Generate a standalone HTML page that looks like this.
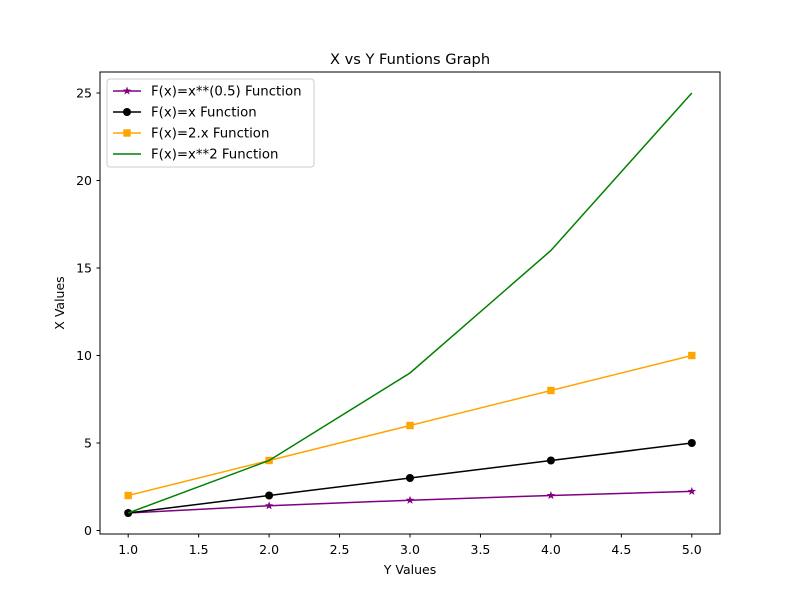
<!DOCTYPE html>
<html><head><meta charset="utf-8"><style>body{margin:0;background:#fff}svg text{font-family:"DejaVu Sans","Liberation Sans",sans-serif}</style></head>
<body>
<svg id="chart" width="800" height="600" xmlns="http://www.w3.org/2000/svg">
<rect width="800" height="600" fill="#fff"/>
<text x="410" y="64" text-anchor="middle" font-size="14.6">X vs Y Funtions Graph</text>
<g id="ticks"></g>
<g id="series"></g>
<rect x="100" y="72" width="620" height="462" fill="none" stroke="#000" stroke-width="1"/>
<text x="410" y="574" text-anchor="middle" font-size="12.5">Y Values</text>
<text transform="translate(64,303) rotate(-90)" text-anchor="middle" font-size="12.5">X Values</text>
<g id="legend"></g>
</svg>
<script>
const xs = [1, 2, 3, 4, 5];
const sqrtVals = [1, 1.414, 1.732, 2, 2.236];
const linVals = [1, 2, 3, 4, 5];
const dblVals = [2, 4, 6, 8, 10];
const sqVals = [1, 4, 9, 16, 25];
const xTicks = [1.0, 1.5, 2.0, 2.5, 3.0, 3.5, 4.0, 4.5, 5.0];
const yTicks = [0, 5, 10, 15, 20, 25];
const labels = ["F(x)=x**(0.5) Function", "F(x)=x Function", "F(x)=2.x Function", "F(x)=x**2 Function"];

const L=100,R=720,T=72,B=534,xmin=0.8,xmax=5.2,ymin=-0.2,ymax=26.2;
const sx=v=>L+(v-xmin)/(xmax-xmin)*(R-L);
const sy=v=>B-(v-ymin)/(ymax-ymin)*(B-T);
const NS="http://www.w3.org/2000/svg";
function mk(t,a,p){const e=document.createElementNS(NS,t);for(const k in a)e.setAttribute(k,a[k]);p.appendChild(e);return e;}
const tg=document.getElementById('ticks');
xTicks.forEach(v=>{const x=sx(v);
 const l=mk('line',{x1:x,x2:x,y1:B,y2:B+3.5,stroke:'#000'},tg);
 
 
 const t=mk('text',{x:x,y:B+20,'text-anchor':'middle','font-size':12.5},tg);t.textContent=v.toFixed(1);
 
 });
yTicks.forEach(v=>{const y=sy(v);
 const l=mk('line',{x1:L-3.5,x2:L,y1:y,y2:y,stroke:'#000'},tg);
 
 
 const t=mk('text',{x:L-8,y:y+4.5,'text-anchor':'end','font-size':12.5},tg);t.textContent=v;
 
 });
const sg=document.getElementById('series');
function star(g,x,y,r,c){let p=[];for(let i=0;i<10;i++){const a=-Math.PI/2+i*Math.PI/5,rr=i%2?r*0.4:r;p.push((x+rr*Math.cos(a))+','+(y+rr*Math.sin(a)));}return mk('polygon',{points:p.join(' '),fill:c},g);}
function marker(g,m,x,y,c){
 if(m==='*')return star(g,x,y,4.5,c);
 if(m==='o')return mk('circle',{cx:x,cy:y,r:4,fill:c},g);
 if(m==='s')return mk('rect',{x:x-3.7,y:y-3.7,width:7.4,height:7.4,fill:c},g);
}
const defs=[[sqrtVals,'purple','*','sqrt'],[linVals,'black','o','linear'],[dblVals,'orange','s','double'],[sqVals,'green',null,'square']];
defs.forEach(([vals,c,m,n])=>{
 const g=mk('g',{},sg);
 
 
 const pl=mk('polyline',{points:xs.map((x,i)=>sx(x)+','+sy(vals[i])).join(' '),fill:'none',stroke:c,'stroke-width':1.5},g);
 
 
 if(m)xs.forEach((x,i)=>{const e=marker(g,m,sx(x),sy(vals[i]),c);
  
  });
});
const lg=document.getElementById('legend');
mk('rect',{x:107,y:79,width:207,height:88,rx:3,fill:'#fff','fill-opacity':0.8,stroke:'#ccc'},lg);
defs.forEach(([v,c,m,n],i)=>{const y=91+i*21;
 const g=mk('g',{},lg);
 
 
 mk('line',{x1:113,x2:141,y1:y,y2:y,stroke:c,'stroke-width':1.5},g);
 if(m)marker(g,m,127,y,c);
 const t=mk('text',{x:151,y:y+4.5,'font-size':13.3},g);t.textContent=labels[i];
});
</script>
</body></html>
